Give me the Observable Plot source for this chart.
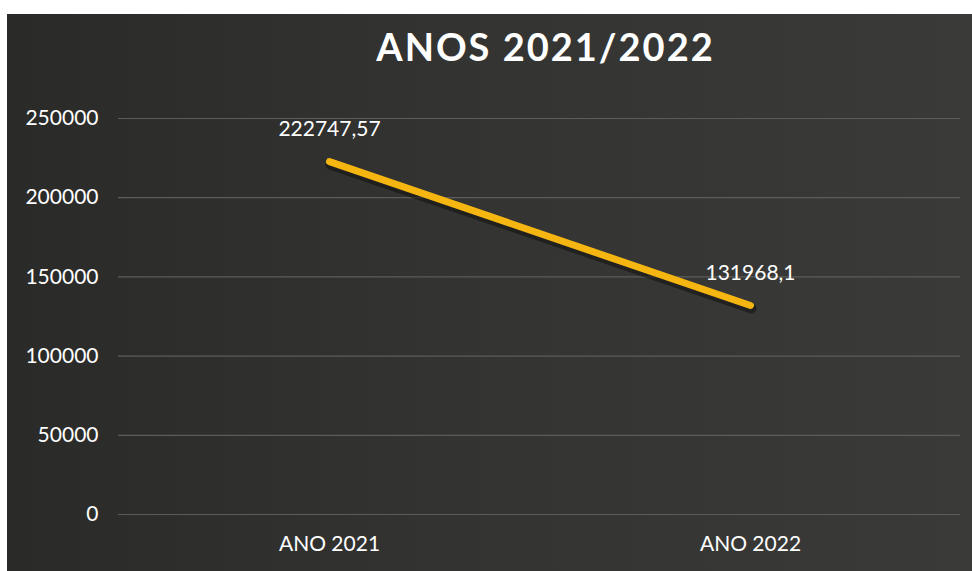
<!DOCTYPE html>
<html><head><meta charset="utf-8">
<script src="https://cdn.jsdelivr.net/npm/d3@7"></script>
<script src="https://cdn.jsdelivr.net/npm/@observablehq/plot@0.6"></script>
<style>
body{margin:0;background:#fff;}
#card{position:absolute;left:7px;top:14px;width:965px;height:557px;overflow:hidden;
  background:linear-gradient(90deg,#2a2a29 0%,#333331 45%,#3a3a38 100%);font-family:Lato,sans-serif;}
#title{height:64px;line-height:64px;text-align:center;color:#fff;font-weight:700;font-size:38px;letter-spacing:2px;padding-left:112px;}
</style></head>
<body>
<div id="card"><div id="title">ANOS 2021/2022</div><div id="chart"></div></div>
<script>
const categories = ["ANO 2021", "ANO 2022"];
const values = [222747.57, 131968.1];
const yTicks = [0, 50000, 100000, 150000, 200000, 250000];

const data = categories.map((c, i) => ({cat: c, value: values[i], label: String(values[i]).replace(".", ",")}));

const chart = Plot.plot({
  width: 965,
  height: 493,
  marginLeft: 111,
  marginRight: 12,
  marginTop: 40,
  marginBottom: 57,
  style: {background: "transparent", color: "#fff", fontFamily: "Lato, sans-serif", fontSize: "21px"},
  x: {type: "point", domain: categories, padding: 0.5, label: null, tickSize: 0, tickPadding: 22},
  y: {domain: [0, 250000], ticks: yTicks, tickFormat: d3.format("d"), label: null, tickSize: 0, tickPadding: 20},
  marks: [
    Plot.ruleY(yTicks, {stroke: "#5c5c5a", strokeWidth: 1.2}),
    Plot.line(data, {x: "cat", y: "value", stroke: "#111", strokeOpacity: 0.55, strokeWidth: 10, strokeLinecap: "round", dx: 1, dy: 3}),
    Plot.line(data, {x: "cat", y: "value", stroke: "#f6b611", strokeWidth: 7, strokeLinecap: "round"}),
    Plot.text(data, {x: "cat", y: "value", text: "label", dy: -32, fill: "#fff", fontSize: 21})
  ]
});
document.getElementById("chart").appendChild(chart);
</script>
</body></html>
